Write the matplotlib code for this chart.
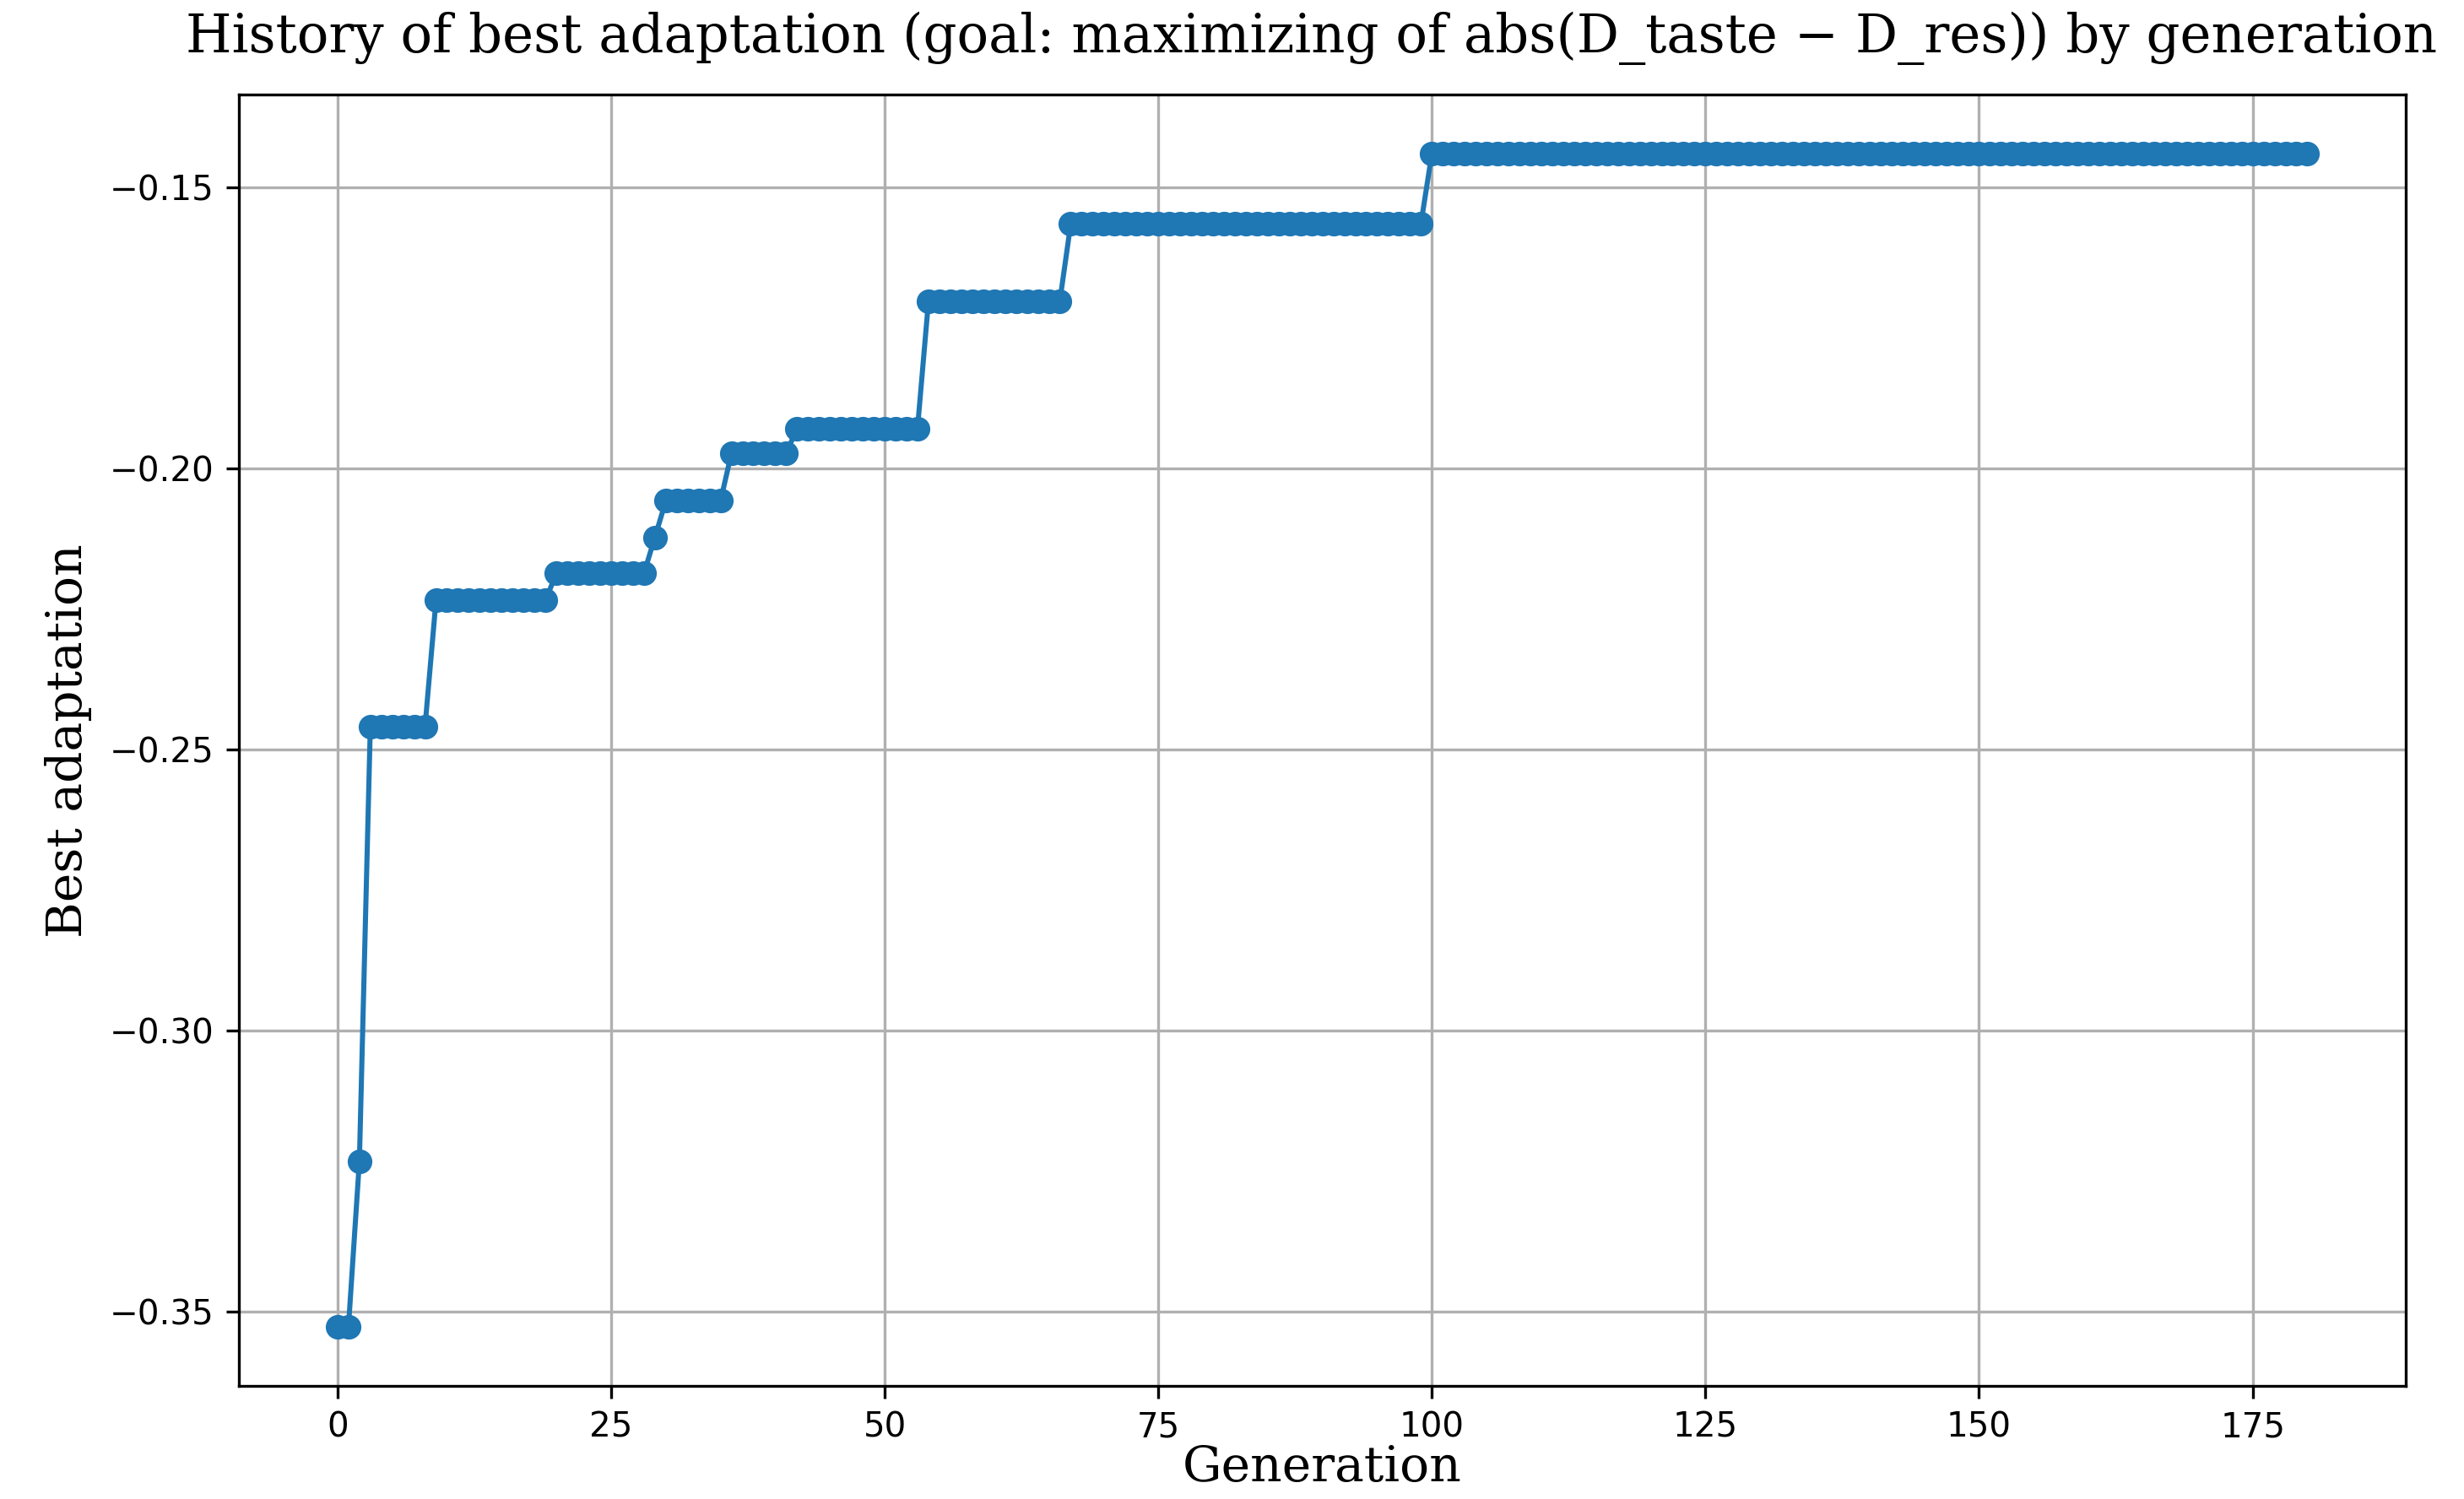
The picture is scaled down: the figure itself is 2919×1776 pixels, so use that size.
import numpy as np
import matplotlib
matplotlib.use("Agg")
import matplotlib.pyplot as plt

# best adaptation per generation, stored as runs (value held for n generations)
run_values = [-0.3528, -0.3233, -0.2459, -0.2235, -0.2187, -0.2123,
              -0.2058, -0.1973, -0.1929, -0.1703, -0.1565, -0.1440]
run_lengths = [2, 1, 6, 11, 9, 1, 6, 6, 12, 13, 33, 81]

TITLE = "History of best adaptation (goal: maximizing of abs(D_taste \u2212 D_res)) by generation"
XLABEL = "Generation"
YLABEL = "Best adaptation"


def main(out_path="out.png"):
    best = np.repeat(run_values, run_lengths)
    gens = np.arange(len(best))

    fig, ax = plt.subplots(figsize=(9.73, 5.92), dpi=300)
    fig.subplots_adjust(left=0.097, right=0.9764, top=0.9367, bottom=0.0755)

    ax.plot(gens, best, marker="o", ms=6.0, lw=1.45, color="C0")
    ax.grid(True)
    ax.tick_params(labelsize=9.7)

    serif = {"family": "DejaVu Serif", "size": 14}
    ax.set_title(TITLE, fontdict={"family": "DejaVu Serif", "size": 15.0},
                 pad=12, x=0.495)
    ax.set_xlabel(XLABEL, fontdict=serif, labelpad=0)
    ax.set_ylabel(YLABEL, fontdict=serif, labelpad=5)

    fig.savefig(out_path, dpi=300)


if __name__ == "__main__":
    main()
